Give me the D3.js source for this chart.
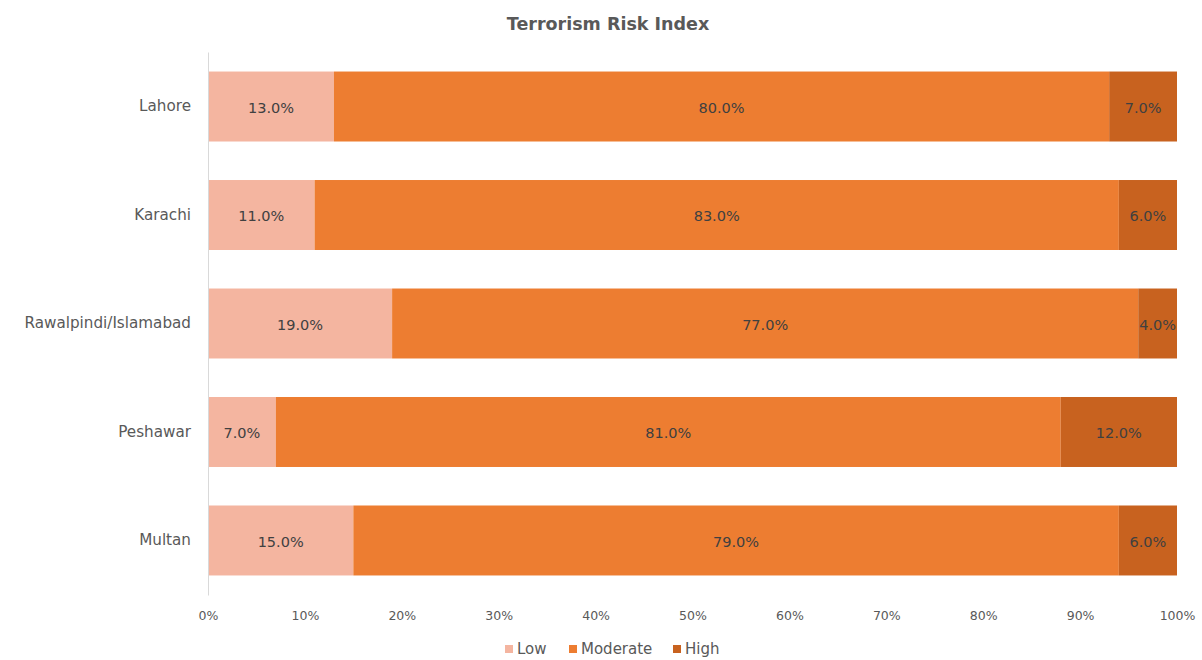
<!DOCTYPE html>
<html>
<head>
<meta charset="utf-8">
<script src="https://cdn.jsdelivr.net/npm/d3@7"></script>
<style>
  html, body { margin: 0; padding: 0; background: #fff; }
  svg { display: block; font-family: "DejaVu Sans", sans-serif; }
</style>
</head>
<body>
<svg id="chart" width="1202" height="660"></svg>
<script>
// Terrorism risk shares per city (percent)
const cities = ["Lahore", "Karachi", "Rawalpindi/Islamabad", "Peshawar", "Multan"];
const lowValues = [13, 11, 19, 7, 15];
const moderateValues = [80, 83, 77, 81, 79];
const highValues = [7, 6, 4, 12, 6];
const seriesNames = ["Low", "Moderate", "High"];
const seriesColors = ["#F4B5A0", "#ED7D31", "#C8621F"];
const tickValues = [0, 10, 20, 30, 40, 50, 60, 70, 80, 90, 100];

const rows = cities.map((c, i) => ({
  city: c, Low: lowValues[i], Moderate: moderateValues[i], High: highValues[i]
}));

const svg = d3.select("#chart");
const margin = { left: 208, right: 25, top: 52, bottom: 65 };
const W = 1202, H = 660;
const FONT = "'DejaVu Sans', sans-serif";

const x = d3.scaleLinear().domain([0, 100]).range([margin.left, W - margin.right]);
const y = d3.scaleBand().domain(cities).range([margin.top, H - margin.bottom]).paddingInner(0.355).paddingOuter(0.18);
const color = d3.scaleOrdinal().domain(seriesNames).range(seriesColors);

// Title
svg.append("text")
  .attr("x", 608)
  .attr("y", 30)
  .attr("text-anchor", "middle")
  .attr("font-size", 17.5)
  .attr("font-weight", "bold")
  .attr("fill", "#595959")
  .text("Terrorism Risk Index");

const stacked = d3.stack().keys(seriesNames)(rows);

const layers = svg.append("g").selectAll("g")
  .data(stacked).join("g")
  .attr("fill", d => color(d.key));

layers.selectAll("rect")
  .data(d => d.map(v => ({ key: d.key, v })))
  .join("rect")
  .attr("x", d => x(d.v[0]))
  .attr("y", d => y(d.v.data.city))
  .attr("width", d => x(d.v[1]) - x(d.v[0]))
  .attr("height", y.bandwidth());

// Value labels centered in segments
layers.selectAll("text")
  .data(d => d.map(v => ({ key: d.key, v })))
  .join("text")
  .attr("x", d => (x(d.v[0]) + x(d.v[1])) / 2)
  .attr("y", d => y(d.v.data.city) + y.bandwidth() / 2 + 1)
  .attr("dy", "0.35em")
  .attr("text-anchor", "middle")
  .attr("font-size", 14.5)
  .attr("fill", "#404040")
  .text(d => (d.v[1] - d.v[0]).toFixed(1) + "%");

// Category axis
const yAxis = svg.append("g")
  .attr("transform", `translate(${margin.left},0)`)
  .call(d3.axisLeft(y).tickSize(0).tickPadding(17));
yAxis.select(".domain").attr("stroke", "#d9d9d9");
yAxis.selectAll("text").attr("font-size", 15.2).attr("fill", "#595959")
  .style("font-family", FONT);

// Percentage axis (labels only)
const xAxis = svg.append("g")
  .attr("transform", `translate(0,${H - margin.bottom})`)
  .call(d3.axisBottom(x).tickValues(tickValues).tickFormat(d => d + "%").tickSize(0).tickPadding(16));
xAxis.select(".domain").remove();
xAxis.selectAll("text").attr("font-size", 12.5).attr("fill", "#595959")
  .style("font-family", FONT);

// Legend
const legend = svg.append("g").attr("transform", "translate(505,649)");
const legendX = [0, 64, 168];
seriesNames.forEach((name, i) => {
  const g = legend.append("g").attr("transform", `translate(${legendX[i]},0)`);
  g.append("rect").attr("x", 0).attr("y", -4).attr("width", 8).attr("height", 8).attr("fill", color(name));
  g.append("text").attr("x", 12).attr("y", 0).attr("dy", "0.35em")
    .attr("font-size", 15).attr("fill", "#595959").text(name);
});
</script>
</body>
</html>
